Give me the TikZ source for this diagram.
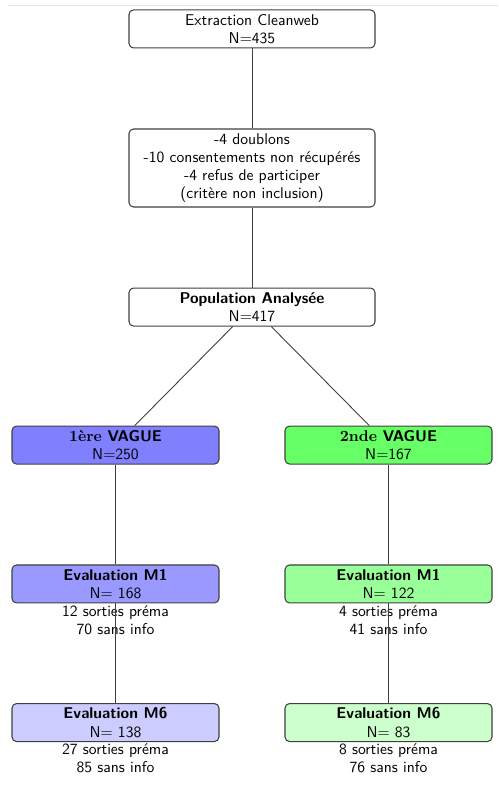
\documentclass[tikz,border=0pt]{standalone}
\usepackage{tikz}
\usetikzlibrary{positioning}
\definecolor{boxborder}{rgb}{0.25,0.25,0.25}

\begin{document}
\begin{tikzpicture}[%
  x=1pt, y=-1pt,
  font=\sffamily\fontsize{10.4}{12.2}\selectfont,
  every node/.style={align=center},
  box/.style={draw=boxborder, line width=0.7pt, fill=white, rounded corners=3pt,
    minimum width=164pt, minimum height=25.3pt, inner sep=1pt},
  wave/.style={box, minimum width=138pt},
  info/.style={inner sep=1pt},
  link/.style={draw=boxborder, line width=0.6pt},
]

  \useasboundingbox (0,0) rectangle (332,524);
  \draw[black!10] (5.3,3.3) -- (332,3.3);

  \node[box] (extract) at (168,19.3) {Extraction Cleanweb\\N=435};
  \node[box, minimum height=52pt] (exclu) at (168,112)
    {-4 doublons\\-10 consentements non récupérés\\-4 refus de participer\\(critère non inclusion)};
  \node[box] (popu) at (168,204.7) {\textbf{Population Analysée}\\N=417};

  \node[wave, fill=blue!50] (vagueA) at (77,296.7) {\textbf{{\rmfamily 1ère} VAGUE}\\N=250};
  \node[wave, fill=green!60] (vagueB) at (259,296.7) {\textbf{{\rmfamily 2nde} VAGUE}\\N=167};

  \node[wave, fill=blue!40] (mAone) at (77,389.3) {\textbf{Evaluation M1}\\N= 168};
  \node[wave, fill=green!40] (mBone) at (259,389.3) {\textbf{Evaluation M1}\\N= 122};
  \node[info, below=0pt of mAone] (mAoneinfo) {12 sorties préma\\70 sans info};
  \node[info, below=0pt of mBone] (mBoneinfo) {4 sorties préma\\41 sans info};

  \node[wave, fill=blue!20] (mAsix) at (77,481.7) {\textbf{Evaluation M6}\\N= 138};
  \node[wave, fill=green!20] (mBsix) at (259,481.7) {\textbf{Evaluation M6}\\N= 83};
  \node[info, below=0pt of mAsix] (mAsixinfo) {27 sorties préma\\85 sans info};
  \node[info, below=0pt of mBsix] (mBsixinfo) {8 sorties préma\\76 sans info};

  % liens
  \draw[link] (extract) -- (exclu);
  \draw[link] (exclu) -- (popu);
  \draw[link] (popu) -- (vagueA);
  \draw[link] (popu) -- (vagueB);
  \draw[link] (vagueA) -- (mAone);
  \draw[link] (mAone) -- (mAsix);
  \draw[link] (vagueB) -- (mBone);
  \draw[link] (mBone) -- (mBsix);

\end{tikzpicture}
\end{document}
